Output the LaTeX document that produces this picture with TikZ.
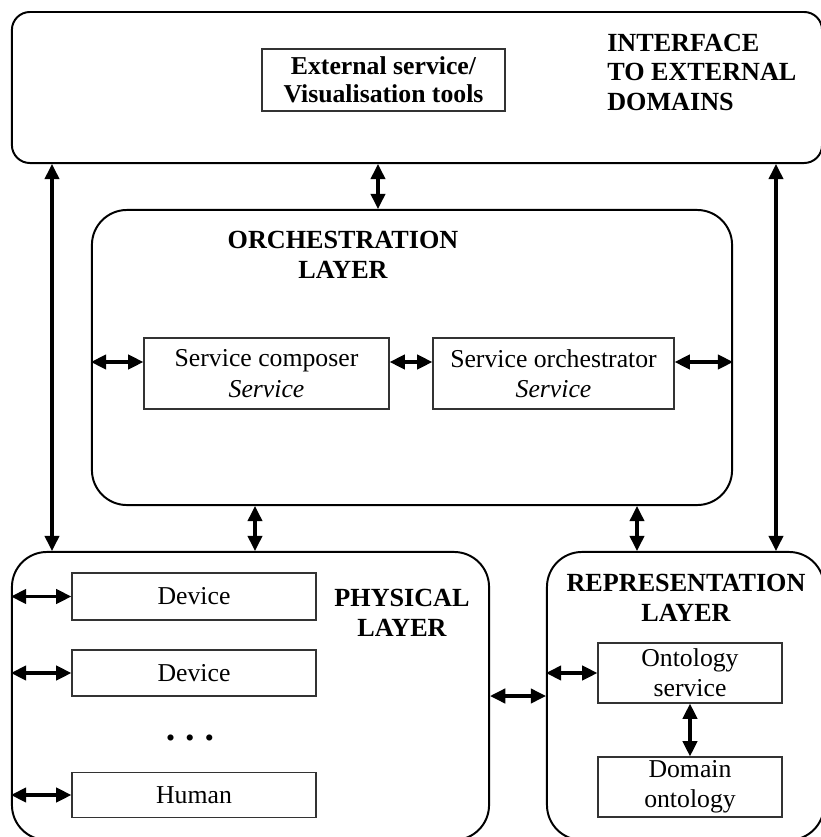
\documentclass[tikz,border=0pt]{standalone}
\usepackage{fontspec}
\setmainfont{Liberation Serif}
\usetikzlibrary{arrows.meta}
\usetikzlibrary{positioning}

\begin{document}
\begin{tikzpicture}[x=0.025cm,y=-0.025cm,
    layer/.style={draw, line width=1.4pt, inner sep=0pt, rounded corners=0.875cm},
    block/.style={draw=black!80, line width=0.9pt, inner sep=0pt, align=center,
        font=\fontsize{18.3}{21.5}\selectfont},
    head/.style={inner sep=0pt, align=center, font=\bfseries\fontsize{18.6}{21}\selectfont},
    biarrow/.style={line width=2.2pt, <->, >={Triangle[length=0.38cm,width=0.36cm]}}]
\useasboundingbox (0,0) rectangle (821,837);

% layers
\node[layer, rounded corners=0.45cm, minimum width=20.25cm, minimum height=3.775cm] (iface) at (417,87.5) {};
\node[layer, minimum width=16cm, minimum height=7.375cm] (orch) at (412,357.5) {};
\node[layer, minimum width=11.925cm, minimum height=7.2cm] (phys) at (250.5,696) {};
\node[layer, minimum width=6.925cm, minimum height=7.2cm] (repr) at (685.5,696) {};

% layer titles
\node[head, anchor=west, align=left] (ifacetitle) at (607,72) {INTERFACE\\TO EXTERNAL\\DOMAINS};
\node[head] (orchtitle) at (343,255) {ORCHESTRATION\\LAYER};
\node[head] (phystitle) at (402,613) {PHYSICAL\\LAYER};
\node[head] (reprtitle) at (686,598) {REPRESENTATION\\LAYER};

% blocks
\node[block, font=\bfseries\fontsize{18.3}{20}\selectfont, minimum width=6.075cm, minimum height=1.55cm] (ext) at (383.5,80) {External service/\\Visualisation tools};
\node[block, minimum width=6.125cm, minimum height=1.775cm] (comp) at (266.5,373.5) {Service composer\\\itshape Service};
\node[block, minimum width=6.025cm, minimum height=1.775cm] (orchr) at (553.5,373.5) {Service orchestrator\\\itshape Service};
\node[block, minimum width=6.1cm, minimum height=1.175cm] (dev1) at (194,596.5) {Device};
\node[block, minimum width=6.1cm, minimum height=1.15cm] (dev2) at (194,673) {Device};
\node[block, minimum width=6.1cm, minimum height=1.125cm] (human) at (194,795) {Human};
\node[font=\fontsize{18.3}{21}\selectfont] (dots) at (190,741) {\textbullet\hspace{2.6mm}\textbullet\hspace{2.6mm}\textbullet};
\node[block, minimum width=4.6cm, minimum height=1.5cm] (onto) at (690,673) {Ontology\\service};
\node[block, minimum width=4.6cm, minimum height=1.5cm] (domain) at (690,787) {Domain\\ontology};

\coordinate (lanel) at (52,0);
\coordinate (lanem) at (378,0);
\coordinate (laner) at (776,0);
\coordinate (lanep) at (255,0);
\coordinate (laneq) at (637,0);
\coordinate (rowa) at (0,362);

% connectors
\draw[biarrow] (iface.south -| lanel) -- (phys.north -| lanel);
\draw[biarrow] (iface.south -| lanem) -- (orch.north -| lanem);
\draw[biarrow] (iface.south -| laner) -- (repr.north -| laner);
\draw[biarrow] (orch.west |- rowa) -- (comp.west |- rowa);
\draw[biarrow] (comp.east |- rowa) -- (orchr.west |- rowa);
\draw[biarrow] (orchr.east |- rowa) -- (orch.east |- rowa);
\draw[biarrow] (orch.south -| lanep) -- (phys.north -| lanep);
\draw[biarrow] (orch.south -| laneq) -- (repr.north -| laneq);
\draw[biarrow] (phys.west |- dev1.west) -- (dev1.west);
\draw[biarrow] (phys.west |- dev2.west) -- (dev2.west);
\draw[biarrow] (phys.west |- human.west) -- (human.west);
\draw[biarrow] (phys.east) -- (repr.west);
\draw[biarrow] (repr.west |- onto.west) -- (onto.west);
\draw[biarrow] (onto.south) -- (domain.north);
\end{tikzpicture}
\end{document}
